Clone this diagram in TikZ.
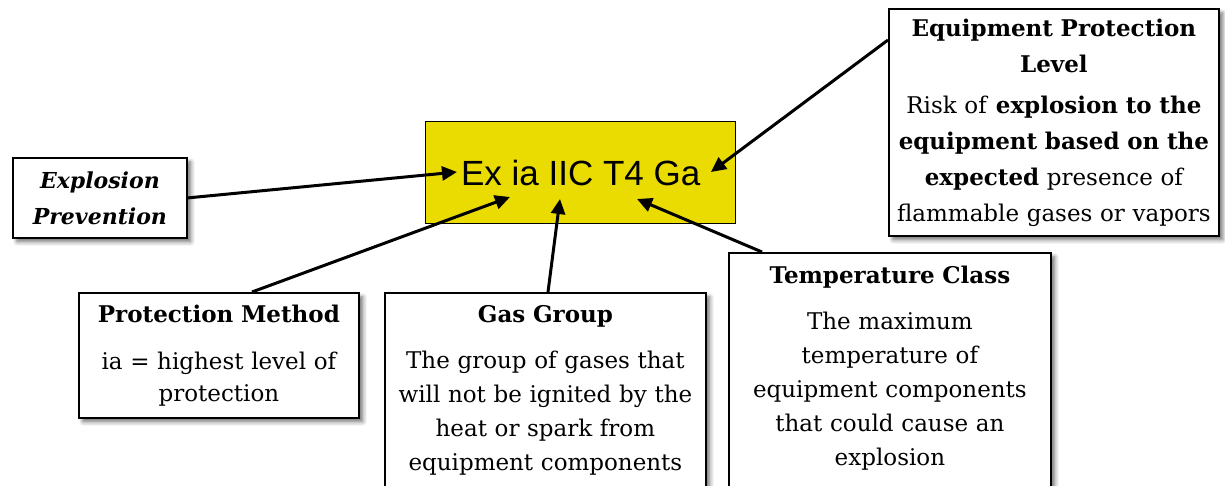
\documentclass[tikz,border=0pt]{standalone}
\usepackage{fontspec}
\setmainfont{DejaVu Serif}
\newfontfamily\arialf{Liberation Sans}
\usetikzlibrary{shadows.blur,arrows.meta,calc}
\definecolor{exyellow}{RGB}{234,220,0}
\tikzset{
 infobox/.style={draw=black, line width=1.8pt, fill=white, align=center,
   inner xsep=4pt, inner ysep=14pt, anchor=north west,
   blur shadow={shadow xshift=4pt, shadow yshift=-4pt, shadow blur radius=4pt, shadow opacity=55},
   font=\fontsize{23}{34}\selectfont},
 pointer/.style={line width=3pt, -{Triangle[length=15pt,width=14pt]}},
 codebox/.style={draw=black, line width=1.4pt, fill=exyellow, anchor=north west,
   minimum width=310pt, minimum height=102pt, inner sep=0pt,
   font=\arialf\fontsize{35}{40}\selectfont},
}
\begin{document}
\begin{tikzpicture}[x=1pt,y=-1pt]
\useasboundingbox (0,0) rectangle (1225,486);
\clip (0,0) rectangle (1225,486);

\node[codebox] (ex) at (425,121) {Ex ia IIC T4 Ga};

\node[infobox, minimum width=174pt, minimum height=80pt, text width=166pt, inner ysep=4pt,
      font=\fontsize{22}{36}\selectfont\bfseries\itshape] (ep) at (12,157)
  {Explosion\\Prevention};

\node[infobox, minimum width=280pt, minimum height=125pt, text width=272pt, inner ysep=4pt,
      font=\fontsize{23}{32}\selectfont] (pm) at (78,292)
  {\textbf{Protection Method}\\[15pt]ia = highest level of\\protection};

\node[infobox, minimum width=330pt, minimum height=227pt, text width=322pt, inner ysep=4pt,
      font=\fontsize{23}{36}\selectfont] (epl) at (888,8)
  {\textbf{Equipment Protection}\\\textbf{Level}\\[5pt]Risk of \textbf{explosion to the}\\
   \textbf{equipment based on the}\\\textbf{expected} presence of\\flammable gases or vapors};

\node[infobox, text width=313pt, inner ysep=13pt, font=\fontsize{23}{34}\selectfont] (gg) at (384,292)
  {\textbf{Gas Group}\\[12pt]The group of gases that\\will not be ignited by the\\heat or spark from\\equipment components\\\rule{0pt}{20pt}};

\node[infobox, text width=314pt, inner ysep=13pt, font=\fontsize{23}{34}\selectfont] (tc) at (728,252)
  {\textbf{Temperature Class}\\[12pt]The maximum\\temperature of\\equipment components\\that could cause an\\explosion\\\rule{0pt}{20pt}};

\coordinate (tipEP) at (457,172);
\coordinate (tipEPL) at (711,172);
\coordinate (tipPM) at (510,197);
\coordinate (tipGG) at (560,199);
\coordinate (tipTC) at (637,199);

\draw[pointer] (ep.east) -- (tipEP);
\draw[pointer] ($(epl.north west)+(0,32)$) -- (tipEPL);
\draw[pointer] ($(pm.north west)+(174,0)$) -- (tipPM);
\draw[pointer] ($(gg.north west)+(164,0)$) -- (tipGG);
\draw[pointer] ($(tc.north west)+(34,0)$) -- (tipTC);
\end{tikzpicture}
\end{document}
